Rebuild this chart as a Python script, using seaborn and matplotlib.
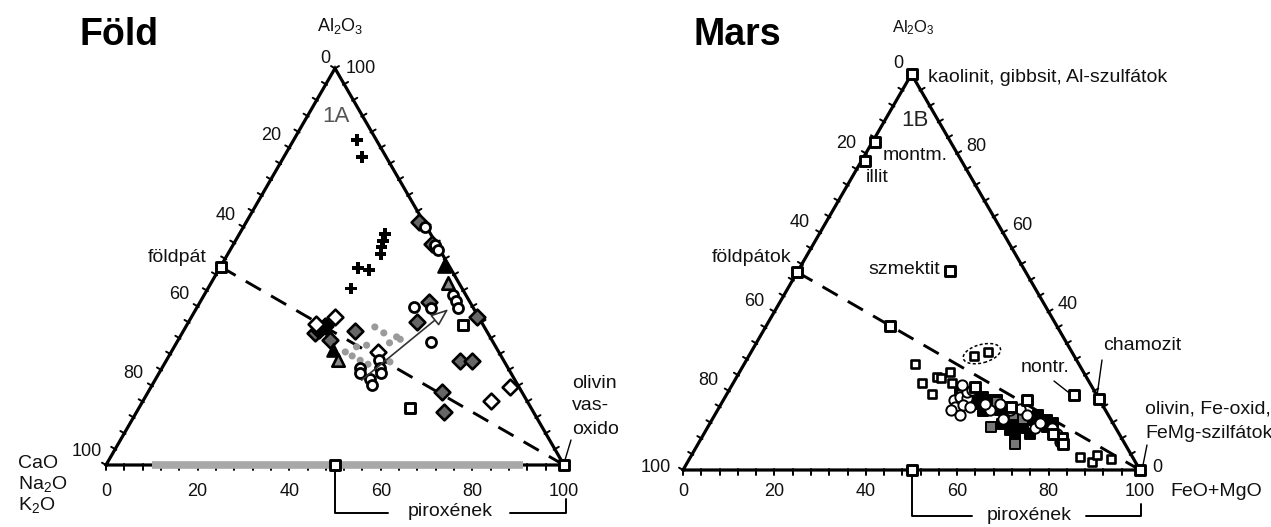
import numpy as np
import pandas as pd
import matplotlib
matplotlib.use("Agg")
import matplotlib.pyplot as plt
import matplotlib.transforms as mtransforms
from matplotlib.patches import Ellipse
import seaborn as sns

# Compositions in the A-CNK-FM system, given as (Al2O3, FeO+MgO) in %;
# CaO+Na2O+K2O is the remainder to 100.

# ---------------- Föld ----------------
earth_cross_al = [81.9, 77.7, 58.2, 56.4, 54.9, 53.1, 49.7, 49.1, 44.5]
earth_cross_fm = [13.8, 17.0, 31.8, 32.3, 32.7, 33.4, 30.2, 32.9, 31.2]

earth_dia_gray_al = [61.3, 55.7, 37.4, 36.1, 41.1, 26.2, 26.2, 18.3, 13.4, 33.9, 31.5, 33.2]
earth_dia_gray_fm = [37.6, 43.3, 62.2, 49.9, 50.0, 64.3, 66.8, 64.2, 67.0, 37.4, 33.1, 29.0]
earth_dia_open_al = [19.7, 16.2, 37.4, 35.5, 28.5]
earth_dia_open_fm = [78.4, 75.9, 31.3, 28.1, 45.2]
earth_dia_black_al = [35.0, 34.0]
earth_dia_black_fm = [30.3, 29.6]

earth_circle_al = [60.0, 55.4, 54.3, 42.8, 41.4, 39.5, 39.9, 39.5, 31.1, 26.4,
                   24.4, 24.4, 23.1, 21.7, 20.2, 23.1]
earth_circle_fm = [39.7, 44.1, 45.4, 54.3, 55.8, 57.2, 47.2, 51.2, 55.4, 46.3,
                   47.6, 43.3, 44.0, 46.8, 47.9, 48.6]

earth_tri_black_al = [50.1, 29.0]
earth_tri_black_fm = [48.8, 35.1]
earth_tri_gray_al = [46.0, 26.4]
earth_tri_gray_fm = [51.7, 37.5]

earth_dot_al = [34.8, 33.3, 32.3, 30.8, 31.7, 30.2, 29.8, 28.5, 27.5, 26.4, 25.4, 26.0]
earth_dot_fm = [41.3, 44.0, 47.3, 46.5, 48.4, 41.8, 39.8, 38.0, 40.0, 42.3, 44.5, 49.0]

earth_square_al = [35.3, 14.3]
earth_square_fm = [60.3, 59.3]

earth_arrow_al = [21.4, 39.3]
earth_arrow_fm = [45.1, 55.1]

# end members: feldspar, pyroxene, olivine / iron oxides
end_al = [50, 0, 0]
end_fm = [0, 50, 100]

pyroxene_band_fm = [10, 91]

# ---------------- Mars ----------------
mars_ref_names = ["kaolinit", "montm.", "illit", "szmektit", "nontr.", "chamozit", "line"]
mars_ref_al = [100, 83, 78, 50.4, 19, 18, 36.5]
mars_ref_fm = [0, 0.5, 0.8, 33.2, 76, 82, 27]

mars_sq_open_al = [26.9, 21.9, 19.3, 23.4, 23.2, 24.7, 22.1, 28.7, 29.8, 3.2, 1.9, 3.8, 2.7]
mars_sq_open_fm = [37.4, 41.3, 44.9, 43.9, 44.9, 46.1, 47.8, 49.3, 51.8, 85.3, 88.6, 88.6, 92.2]

mars_circle_al = [17.6, 18.5, 18.1, 15.9, 16.4, 15.9, 13.9, 15.1, 19.7, 21.4, 20.2, 15.1,
                  16.8, 16.8, 15.1, 15.5, 10.5, 10.5, 9.2, 7.1, 11.8, 13.9, 13.0]
mars_circle_fm = [50.4, 51.4, 53.1, 51.5, 53.1, 54.8, 53.7, 51.2, 52.2, 50.3, 53.1, 59.6,
                  57.7, 61.0, 64.0, 65.9, 71.7, 75.4, 77.2, 78.9, 72.2, 68.3, 63.6]

mars_sq_black_al = [19.3, 18.5, 17.6, 17.6, 15.1, 14.3, 13.4, 12.6, 13.4, 12.6, 12.6, 12.6,
                    10.9, 11.8, 10.9, 10.5, 9.2, 12.6, 15.9, 16.8, 17.6, 19.3, 10.1, 8.4,
                    14.8, 16.0, 11.5, 13.8]
mars_sq_black_fm = [53.8, 56.5, 57.7, 59.8, 61.8, 63.7, 65.6, 67.4, 68.5, 70.4, 71.8, 73.3,
                    74.1, 75.1, 67.5, 69.2, 71.3, 65.3, 59.9, 56.6, 54.0, 50.9, 66.6, 68.4,
                    58.3, 62.5, 64.0, 70.8]

mars_sq_gray_al = [10.9, 6.5, 13.9, 13.0, 17.2, 18.9]
mars_sq_gray_fm = [62.0, 69.3, 65.4, 68.0, 60.0, 51.6]

mars_sq_thick_al = [8.0, 6.5, 9.2, 17.6, 15.9, 21.0]
mars_sq_thick_fm = [78.9, 79.9, 76.4, 66.4, 63.9, 53.4]

mars_group_al, mars_group_fm = 29.4, 50.7   # dotted ellipse centre

tick_labels = [0, 20, 40, 60, 80, 100]
mars_right_labels = [80, 60, 40, 0]

# ---------------- figure ----------------
W, H, DPI = 1271, 527, 100
sns.set_theme(style="white")
plt.rcParams["font.family"] = ["Liberation Sans", "DejaVu Sans"]
plt.rcParams["mathtext.default"] = "regular"

fig = plt.figure(figsize=(W / DPI, H / DPI), dpi=DPI)
fig.patch.set_facecolor("white")
PIX = mtransforms.Affine2D().scale(1, -1).translate(0, H)   # pixel coords, y from top
R3 = np.sqrt(3) / 2
LBL = 14     # label font size
TCK = 13     # tick label font size


def txy(al, fm):
    al = np.asarray(al, float)
    fm = np.asarray(fm, float)
    return fm + al / 2, al * R3


def make_axes(x0, x1, ox, oy, s):
    ax = fig.add_axes([x0 / W, 0, (x1 - x0) / W, 1])
    ax.set_axis_off()
    return ax, ((x0 - ox) / s, (x1 - ox) / s), (-(H - oy) / s, oy / s)


def frame(ax):
    x, y = txy([0, 0, 100, 0], [0, 100, 0, 0])
    ax.plot(x, y, color="black", lw=2.3, solid_joinstyle="miter", zorder=2)
    for v in range(0, 101, 4):
        for (al, fm), n in (((0, v), (0, -1)),
                            ((100 - v, 0), (-R3, 0.5)),
                            ((v, 100 - v), (R3, 0.5))):
            px, py = txy(al, fm)
            ax.plot([px - 0.3 * n[0], px + 1.0 * n[0]], [py - 0.3 * n[1], py + 1.0 * n[1]],
                    color="black", lw=1.4, zorder=2)
    x, y = txy([50, 0], [0, 100])
    ax.plot(x, y, color="black", lw=2.1, dashes=(6, 4), zorder=2)


def scatter(ax, al, fm, marker, size, face, edge="black", lw=1.6, z=3):
    x, y = txy(al, fm)
    df = pd.DataFrame({"x": x, "y": y})
    sns.scatterplot(data=df, x="x", y="y", marker=marker, s=size, color=face,
                    edgecolor=edge, linewidth=lw, ax=ax, legend=False, zorder=z)


def edge_label(ax, text, al, fm, dx, dy, size=TCK):
    x, y = txy(al, fm)
    ax.annotate(text, xy=(x, y), xytext=(dx * 0.72, -dy * 0.72), textcoords="offset points",
                ha="center", va="center", fontsize=size, color="#111")


def ptext(ax, x, y, s, size=LBL, ha="center", clip=False, **kw):
    ax.text(x, y, s, transform=PIX, ha=ha, va="center", fontsize=size,
            color=kw.pop("color", "#111"), clip_on=clip, **kw)


def pline(ax, xs, ys, lw=1.4):
    ax.plot(xs, ys, transform=PIX, color="black", lw=lw, clip_on=False)


# ===== Föld =====
axE, xlE, ylE = make_axes(0, 619, 106, 465, 4.58)
frame(axE)
bx, by = txy([0, 0], pyroxene_band_fm)
axE.plot(bx, by, color="#a8a8a8", lw=5.5, solid_capstyle="butt", zorder=2.5)
scatter(axE, earth_dot_al, earth_dot_fm, "o", 26, "#9a9a9a", edge="none", lw=0, z=3)
scatter(axE, earth_dia_gray_al, earth_dia_gray_fm, "D", 64, "#666666", lw=1.9, z=4)
scatter(axE, earth_dia_black_al, earth_dia_black_fm, "D", 64, "black", lw=1.9, z=4)
scatter(axE, earth_dia_open_al, earth_dia_open_fm, "D", 64, "white", lw=1.9, z=4)
scatter(axE, earth_circle_al, earth_circle_fm, "o", 52, "white", lw=2.0, z=5)
scatter(axE, earth_tri_black_al, earth_tri_black_fm, "^", 80, "black", lw=1.6, z=5)
scatter(axE, earth_tri_gray_al, earth_tri_gray_fm, "^", 80, "#8a8a8a", lw=1.9, z=5)
scatter(axE, earth_cross_al, earth_cross_fm, "P", 72, "black", edge="none", lw=0, z=5)
scatter(axE, earth_square_al, earth_square_fm, "s", 55, "white", lw=2.1, z=5)
scatter(axE, end_al, end_fm, "s", 48, "white", lw=2.1, z=6)
a0 = txy(earth_arrow_al[0], earth_arrow_fm[0])
a1 = txy(earth_arrow_al[1], earth_arrow_fm[1])
axE.annotate("", xy=a1, xytext=a0, zorder=6,
             arrowprops=dict(arrowstyle="-|>,head_length=0.9,head_width=0.35",
                             fc="white", ec="#333", lw=1.2, shrinkA=0, shrinkB=0))

for v in tick_labels:
    edge_label(axE, str(v), 0, v, 0, 27)
    if v == 0:
        edge_label(axE, "0", 100, 0, -10, -10)
    elif v == 100:
        edge_label(axE, "100", 0, 0, -19, -13)
    else:
        edge_label(axE, str(v), 100 - v, 0, -18, -12)
edge_label(axE, "100", 100, 0, 26, 0)

ptext(axE, 119, 35, "Föld", size=27, weight="bold", color="black")
ptext(axE, 340, 26, r"Al$_2$O$_3$", size=13)
ptext(axE, 336, 116, "1A", size=16, color="#555")
ptext(axE, 177, 258, "földpát")
ptext(axE, 572, 383, "olivin", ha="left", clip=True)
ptext(axE, 572, 406, "vas-", ha="left", clip=True)
ptext(axE, 572, 430, "oxidok", ha="left", clip=True)
pline(axE, [571, 565], [440, 460], lw=1.0)
ptext(axE, 18, 463, "CaO", ha="left")
ptext(axE, 18, 484, r"Na$_2$O", ha="left")
ptext(axE, 18, 505, r"K$_2$O", ha="left")
pline(axE, [335, 335, 388], [470, 513, 513])
pline(axE, [510, 566, 566], [513, 513, 499])
ptext(axE, 450, 512, "piroxének")
axE.set_xlim(*xlE)
axE.set_ylim(*ylE)

# ===== Mars =====
axM, xlM, ylM = make_axes(619, 1271, 683, 470, 4.57)
frame(axM)
scatter(axM, mars_sq_black_al, mars_sq_black_fm, "s", 58, "black", lw=1.4, z=3)
scatter(axM, mars_sq_gray_al, mars_sq_gray_fm, "s", 58, "#777777", lw=1.4, z=3)
scatter(axM, mars_circle_al, mars_circle_fm, "o", 55, "white", lw=1.4, z=4)
scatter(axM, mars_sq_thick_al, mars_sq_thick_fm, "s", 44, "white", lw=2.1, z=5)
scatter(axM, mars_sq_open_al, mars_sq_open_fm, "s", 36, "white", lw=1.9, z=5)
scatter(axM, mars_ref_al, mars_ref_fm, "s", 46, "white", lw=2.1, z=6)
scatter(axM, end_al, end_fm, "s", 48, "white", lw=2.1, z=6)
gx, gy = txy(mars_group_al, mars_group_fm)
axM.add_patch(Ellipse((gx, gy), 8.4, 4.0, angle=15, fill=False, ec="black",
                      ls=(0, (2, 1.5)), lw=1.1, zorder=6))

for v in tick_labels:
    edge_label(axM, str(v), 0, v, 0, 22)
    if v == 0:
        edge_label(axM, "0", 100, 0, -13, -11)
    elif v == 100:
        edge_label(axM, "100", 0, 0, -27, -3)
    else:
        edge_label(axM, str(v), 100 - v, 0, -20, -10)
for v in mars_right_labels:
    if v == 0:
        edge_label(axM, "0", 0, 100, 17, -3)
    else:
        edge_label(axM, str(v), v, 100 - v, 19, -7)

ptext(axM, 737, 35, "Mars", size=27, weight="bold", color="black")
ptext(axM, 913, 28, r"Al$_2$O$_3$", size=12)
ptext(axM, 915, 120, "1B", size=16, color="#222")
ptext(axM, 928, 77, "kaolinit, gibbsit, Al-szulfátok", ha="left")
ptext(axM, 915, 155, "montm.")
ptext(axM, 877, 177, "illit")
ptext(axM, 752, 258, "földpátok")
ptext(axM, 940, 269, "szmektit", ha="right")
ptext(axM, 1045, 367, "nontr.")
pline(axM, [1054, 1068], [381, 392], lw=1.0)
ptext(axM, 1142, 346, "chamozit")
pline(axM, [1102, 1097], [360, 396], lw=1.0)
ptext(axM, 1145, 409, "olivin, Fe-oxid,", ha="left")
ptext(axM, 1145, 433, "FeMg-szilfátok", ha="left")
pline(axM, [1147, 1143], [445, 465], lw=1.0)
ptext(axM, 1170, 491, "FeO+MgO", ha="left")
pline(axM, [912, 912, 972], [476, 516, 516])
pline(axM, [1086, 1141, 1141], [516, 516, 504])
ptext(axM, 1029, 515, "piroxének")
axM.set_xlim(*xlM)
axM.set_ylim(*ylM)

fig.savefig("out.png", dpi=DPI, facecolor="white")
